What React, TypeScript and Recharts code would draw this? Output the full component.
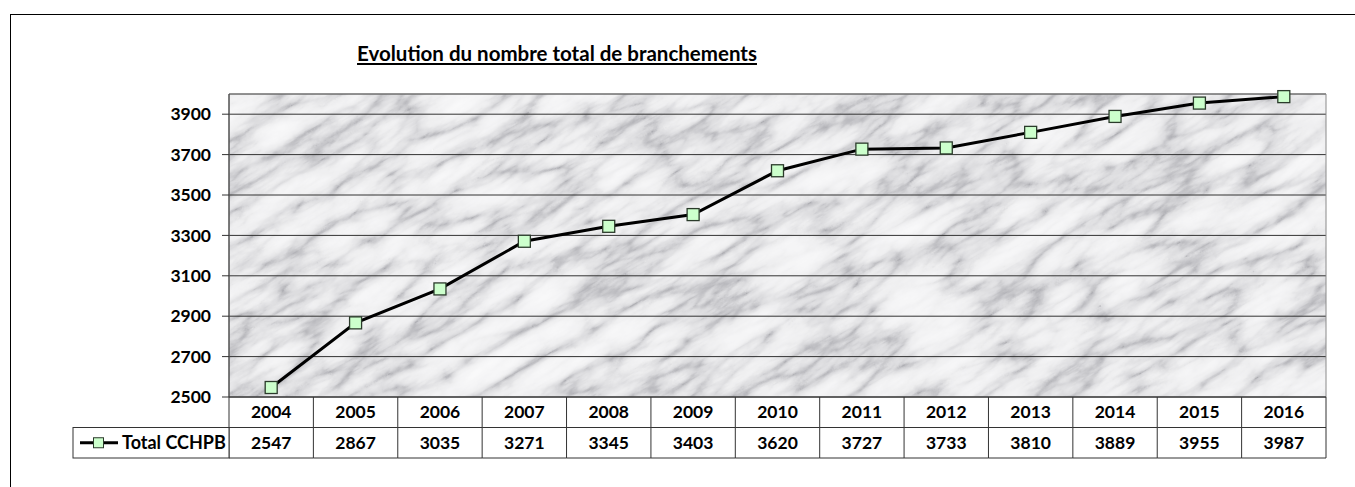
import React from 'react';
import { LineChart, Line, XAxis, YAxis, CartesianGrid, ReferenceArea } from 'recharts';

const years = ['2004', '2005', '2006', '2007', '2008', '2009', '2010', '2011', '2012', '2013', '2014', '2015', '2016'];
const totalCchpb = [2547, 2867, 3035, 3271, 3345, 3403, 3620, 3727, 3733, 3810, 3889, 3955, 3987];
const yTicks = [2500, 2700, 2900, 3100, 3300, 3500, 3700, 3900];
const seriesName = 'Total CCHPB';
const title = 'Evolution du nombre total de branchements';

const data = years.map((year, i) => ({ year, value: totalCchpb[i] }));

const W = 1355;
const H = 487;
const PLOT_LEFT = 229;
const PLOT_RIGHT = 1326;
const PLOT_TOP = 94;
const PLOT_BOTTOM = 397;
const ROW_H = 30.5;
const BAND = (PLOT_RIGHT - PLOT_LEFT) / years.length;
const FONT = 'Lato, "Open Sans", sans-serif';
const GRID = '#333';

// table below the plot: year row + values row, drawn as the x-axis ticks
const TableTick = (props: any) => {
  const { x, y, payload, index } = props;
  const top = y;
  const left = x - BAND / 2;
  const right = x + BAND / 2;
  return (
    <g>
      {index === 0 && (
        <g>
          <line x1={left} y1={top} x2={left} y2={top + 2 * ROW_H} stroke={GRID} />
          <rect x={73} y={top + ROW_H} width={left - 73} height={ROW_H} fill="#fff" stroke={GRID} />
          <line x1={80} y1={top + ROW_H * 1.5} x2={118} y2={top + ROW_H * 1.5} stroke="#000" strokeWidth={3} />
          <rect x={93.5} y={top + ROW_H * 1.5 - 5} width={10} height={10} fill="#ccffcc" stroke="#2b3b2b" />
          <text x={122} y={top + ROW_H * 1.5 + 6} fontFamily={FONT} fontWeight={700} fontSize={18} fill="#000">
            {seriesName}
          </text>
        </g>
      )}
      <line x1={right} y1={top} x2={right} y2={top + 2 * ROW_H} stroke={GRID} />
      <line x1={left} y1={top + ROW_H} x2={right} y2={top + ROW_H} stroke={GRID} />
      <line x1={left} y1={top + 2 * ROW_H} x2={right} y2={top + 2 * ROW_H} stroke={GRID} />
      <text x={x} y={top + 21} textAnchor="middle" fontFamily={FONT} fontWeight={700} fontSize={17.5} fill="#000">
        {payload.value}
      </text>
      <text x={x} y={top + ROW_H + 21} textAnchor="middle" fontFamily={FONT} fontWeight={700} fontSize={17.5} fill="#000">
        {totalCchpb[index]}
      </text>
    </g>
  );
};

const SquareDot = (props: any) => {
  const { cx, cy } = props;
  if (cx == null || cy == null) return null;
  return <rect x={cx - 6} y={cy - 6} width={12} height={12} fill="#ccffcc" stroke="#2b3b2b" strokeWidth={1.3} />;
};

export default function App() {
  return (
    <div style={{ position: 'absolute', left: 0, top: 0, width: W, height: H, background: '#fff', overflow: 'hidden' }}>
      <svg width={0} height={0} style={{ position: 'absolute' }}>
        <defs>
          {/* marble-like background for the plot area */}
          <filter id="marbleNoise" x="0" y="0" width="100%" height="100%" colorInterpolationFilters="sRGB">
            <feTurbulence type="turbulence" baseFrequency="0.01 0.032" numOctaves={5} seed={11} />
            <feColorMatrix type="matrix" values="1 0 0 0 0  1 0 0 0 0  1 0 0 0 0  0 0 0 0 1" />
            <feComponentTransfer>
              <feFuncR type="table" tableValues="0.68 0.86 0.935 0.96 0.975 0.985" />
              <feFuncG type="table" tableValues="0.68 0.86 0.935 0.96 0.975 0.985" />
              <feFuncB type="table" tableValues="0.7 0.87 0.94 0.965 0.978 0.988" />
            </feComponentTransfer>
            <feGaussianBlur stdDeviation={0.7} />
          </filter>
          <pattern
            id="marbleFill"
            patternUnits="userSpaceOnUse"
            x={-1200}
            y={-1200}
            width={2400}
            height={2400}
            patternTransform="rotate(-30)"
          >
            <rect x={0} y={0} width={2400} height={2400} fill="#eee" filter="url(#marbleNoise)" />
          </pattern>
        </defs>
      </svg>
      <div
        style={{
          position: 'absolute',
          left: 10,
          top: 14,
          width: W - 10,
          height: H - 14,
          borderLeft: '1px solid #000',
          borderTop: '1px solid #000',
          boxSizing: 'border-box',
        }}
      />
      <div
        style={{
          position: 'absolute',
          left: 257,
          width: 600,
          top: 41,
          textAlign: 'center',
          fontFamily: FONT,
          fontWeight: 700,
          fontSize: 20.5,
          textDecoration: 'underline',
          color: '#000',
        }}
      >
        {title}
      </div>
      <div style={{ position: 'absolute', left: 0, top: 0 }}>
        <LineChart
          width={W}
          height={H}
          data={data}
          margin={{ top: PLOT_TOP, right: W - PLOT_RIGHT, left: PLOT_LEFT - 80, bottom: H - PLOT_BOTTOM - 64 }}
        >
          <CartesianGrid vertical={false} stroke={GRID} fill="url(#marbleFill)" fillOpacity={1} />
          <ReferenceArea y1={2500} y2={4000} fill="none" stroke="#8a8a8a" strokeWidth={1} />
          <XAxis
            dataKey="year"
            scale="band"
            height={64}
            axisLine={{ stroke: GRID }}
            tickLine={false}
            tickSize={0}
            tickMargin={0}
            interval={0}
            tick={<TableTick />}
          />
          <YAxis
            width={80}
            domain={[2500, 4000]}
            ticks={yTicks}
            axisLine={{ stroke: GRID }}
            tickLine={{ stroke: GRID }}
            tickSize={7}
            tickMargin={11}
            tick={{ fontFamily: FONT, fontWeight: 700, fontSize: 17.5, fill: '#000' }}
          />
          <Line
            type="linear"
            dataKey="value"
            name={seriesName}
            stroke="#000"
            strokeWidth={3}
            dot={<SquareDot />}
            activeDot={false}
            isAnimationActive={false}
          />
        </LineChart>
      </div>
    </div>
  );
}
